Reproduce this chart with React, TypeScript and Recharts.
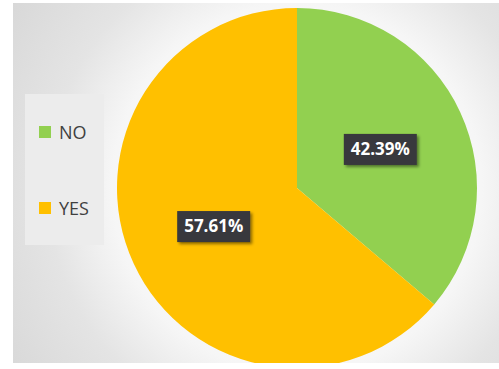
import React from 'react';
import { PieChart, Pie, Cell, Legend } from 'recharts';

const categories = ['NO', 'YES'];
const values = [36.2, 63.8];
// percentages printed on the slices
const labels = ['42.39%', '57.61%'];
const colors = ['#92d050', '#ffc000'];

const data = categories.map((name, i) => ({ name, value: values[i], label: labels[i] }));

const RAD = Math.PI / 180;

const renderLabel = (props: any) => {
    const { cx, cy, midAngle, outerRadius, index } = props;
    const r = outerRadius * 0.51;
    const x = cx + r * Math.cos(-midAngle * RAD);
    const y = cy + r * Math.sin(-midAngle * RAD);
    const w = 73;
    const h = 31;
    return (
        <g key={`lbl-${index}`}>
            <rect x={x - w / 2} y={y - h / 2} width={w} height={h} fill="#38383c" filter="url(#lblShadow)" />
            <text
                x={x}
                y={y + 1}
                textAnchor="middle"
                dominantBaseline="middle"
                fill="#ffffff"
                fontSize={17}
                fontWeight="bold"
                fontFamily="'Open Sans', sans-serif"
            >
                {labels[index]}
            </text>
        </g>
    );
};

const renderLegend = () => (
    <div style={{ width: 79, height: 151, background: '#ececec', position: 'relative', fontFamily: "'Open Sans', sans-serif" }}>
        {data.map((item, i) => (
            <div key={item.name} style={{ position: 'absolute', left: 14, top: 30 + i * 76, display: 'flex', alignItems: 'center' }}>
                <div style={{ width: 12, height: 12, background: colors[i] }} />
                <span style={{ marginLeft: 8, fontSize: 18, color: '#404040', lineHeight: '16px' }}>{item.name}</span>
            </div>
        ))}
    </div>
);

export default function App() {
    return (
        <div style={{ position: 'fixed', left: 0, top: 0, width: 499, height: 369, background: '#ffffff' }}>
            <div
                style={{
                    position: 'absolute',
                    left: 13,
                    top: 3,
                    width: 486,
                    height: 360,
                    overflow: 'hidden',
                    background: 'radial-gradient(circle at 284px 185px, #ffffff 0px, #f6f6f6 185px, #e4e4e4 250px, #d8d8d8 340px)',
                }}
            >
                <PieChart width={486} height={360} margin={{ top: 0, right: 0, bottom: 0, left: 0 }}>
                    <defs>
                        <filter id="lblShadow" x="-20%" y="-30%" width="150%" height="170%">
                            <feDropShadow dx="2" dy="2" stdDeviation="1.5" floodColor="#000" floodOpacity="0.45" />
                        </filter>
                    </defs>
                    <Pie
                        data={data}
                        dataKey="value"
                        nameKey="name"
                        cx={284}
                        cy={185}
                        outerRadius={180}
                        startAngle={90}
                        endAngle={-270}
                        stroke="none"
                        label={renderLabel}
                        labelLine={false}
                        isAnimationActive={false}
                    >
                        {data.map((entry, index) => (
                            <Cell key={`cell-${index}`} fill={colors[index]} />
                        ))}
                    </Pie>
                    <Legend
                        content={renderLegend}
                        wrapperStyle={{ position: 'absolute', left: 12, top: 91, width: 79, height: 151 }}
                    />
                </PieChart>
            </div>
        </div>
    );
}
